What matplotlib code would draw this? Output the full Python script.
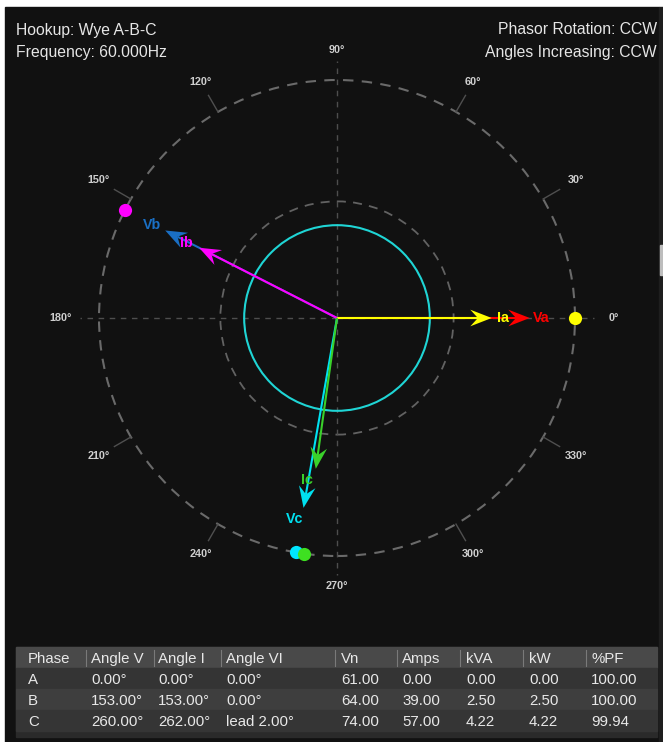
import numpy as np
import matplotlib
matplotlib.use('Agg')
import matplotlib.pyplot as plt
from matplotlib.patches import Circle, Rectangle, Polygon

plt.rcParams['font.family'] = ['Liberation Sans', 'DejaVu Sans']

# phasor data (angles in degrees, lengths as fraction of the outer ring)
phases = ['A', 'B', 'C']
v_angles = [0.0, 153.0, 260.0]
i_angles = [0.0, 153.0, 262.0]
v_len = [0.81, 0.81, 0.81]
i_len = [0.65, 0.65, 0.64]
v_labels = ['Va', 'Vb', 'Vc']
i_labels = ['Ia', 'Ib', 'Ic']
v_colors = ['#ff0000', '#1a6fc4', '#00e1f0']
i_colors = ['#ffff00', '#ff00ff', '#3ad12a']
dot_colors = ['#ffff00', '#ff00ff', '#00e5ff', '#3ee021']
dot_angles = [0.0, 153.0, 260.0, 262.0]

grid_angles = list(range(0, 360, 30))

# table
columns = ['Phase', 'Angle V', 'Angle I', 'Angle VI', 'Vn', 'Amps', 'kVA', 'kW', '%PF']
rows = [
    ['A', '0.00°', '0.00°', '0.00°', '61.00', '0.00', '0.00', '0.00', '100.00'],
    ['B', '153.00°', '153.00°', '0.00°', '64.00', '39.00', '2.50', '2.50', '100.00'],
    ['C', '260.00°', '262.00°', 'lead 2.00°', '74.00', '57.00', '4.22', '4.22', '99.94'],
]
col_x = [28, 91, 158, 226, 341, 402, 466, 529, 591]
sep_x = [86, 154, 221, 335, 397, 460, 523, 586]

W, H = 663, 742
fig = plt.figure(figsize=(W / 100, H / 100), dpi=100, facecolor='white')


def fx(x):
    return x / W


def fy(y):
    return 1 - y / H


# dark panel
fig.patches.append(Rectangle((fx(5), 0), fx(654), fy(7), transform=fig.transFigure,
                             color='#111111', zorder=-10))
fig.patches.append(Rectangle((fx(659), 0), fx(4), fy(7), transform=fig.transFigure,
                             color='#1e1e1e', zorder=-10))
fig.patches.append(Rectangle((fx(660), fy(275)), fx(3), 30 / H, transform=fig.transFigure,
                             color='#bdbdbd', zorder=-9))

# header texts
txt = dict(color='#e6e6e6', fontsize=11.3, va='center')
fig.text(fx(16), fy(30), 'Hookup: Wye A-B-C', ha='left', **txt)
fig.text(fx(16), fy(52), 'Frequency: 60.000Hz', ha='left', **txt)
fig.text(fx(657), fy(30), 'Phasor Rotation: CCW', ha='right', **txt)
fig.text(fx(657), fy(52), 'Angles Increasing: CCW', ha='right', **txt)

# phasor axes: centre at (337, 318) px, outer ring radius 238 px
cx, cy, R = 337, 318, 238
half = 300
ax = fig.add_axes([fx(cx - half), fy(cy + half), 2 * half / W, 2 * half / H])
ax.set_xlim(-half / R, half / R)
ax.set_ylim(-half / R, half / R)
ax.set_aspect('equal')
ax.axis('off')
ax.patch.set_alpha(0)

# rings
ax.add_patch(Circle((0, 0), 1.0, fill=False, ec='#6a6a6a', lw=1.5, ls=(0, (5, 4)), zorder=1))
ax.add_patch(Circle((0, 0), 0.49, fill=False, ec='#626262', lw=1.3, ls=(0, (5, 4)), zorder=1))
ax.add_patch(Circle((0, 0), 0.39, fill=False, ec='#1fd5d5', lw=1.5, zorder=2))

for a in grid_angles:
    t = np.radians(a)
    if a % 90 == 0:
        ax.plot([0, 1.08 * np.cos(t)], [0, 1.08 * np.sin(t)], color='#4e4e4e', lw=1.0,
                ls=(0, (4, 4)), zorder=1)
    else:
        ax.plot([1.0 * np.cos(t), 1.08 * np.cos(t)], [1.0 * np.sin(t), 1.08 * np.sin(t)],
                color='#4f4f4f', lw=1.0, zorder=1)
    r_lab = 1.125 + 0.038 * abs(np.cos(t))
    ax.text(r_lab * np.cos(t), r_lab * np.sin(t), f'{a}°', color='#cfcfcf', fontsize=7.8,
            fontweight='bold', ha='center', va='center')


def phasor(angle, length, color, label, z):
    t = np.radians(angle)
    d = np.array([np.cos(t), np.sin(t)])
    n = np.array([-d[1], d[0]])
    tip = d * length
    hl, hw, notch = 0.09, 0.035, 0.058
    ax.plot([0, tip[0] - d[0] * notch], [0, tip[1] - d[1] * notch], color=color, lw=1.5,
            solid_capstyle='butt', zorder=z)
    head = [tip, tip - d * hl + n * hw, tip - d * notch, tip - d * hl - n * hw]
    ax.add_patch(Polygon(head, closed=True, color=color, lw=0, zorder=z))
    lp = d * (length + 0.047) + np.array([-0.03 * abs(d[1]), 0.0])
    ax.text(lp[0], lp[1], label, color=color, fontsize=10.3, fontweight='bold',
            ha='center', va='center', zorder=z + 1)


for k in range(3):
    phasor(v_angles[k], v_len[k], v_colors[k], v_labels[k], 3 + k)
for k in range(3):
    phasor(i_angles[k], i_len[k], i_colors[k], i_labels[k], 7 + k)

for a, c in zip(dot_angles, dot_colors):
    t = np.radians(a)
    ax.plot(np.cos(t), np.sin(t), 'o', color=c, ms=9.5, mec='none', zorder=12)

# table
tab_left, tab_right = 16, 657
row_top = [647, 668, 689, 710]
row_h = 21
row_colors = ['#494949', '#343434', '#3e3e3e', '#353535']
fig.patches.append(Rectangle((fx(tab_left), fy(737)), fx(tab_right - tab_left), (737 - 647) / H,
                             transform=fig.transFigure, color='#2a2a2a', zorder=1))
for r, (top, col) in enumerate(zip(row_top, row_colors)):
    fig.patches.append(Rectangle((fx(tab_left), fy(top + row_h)), fx(tab_right - tab_left),
                                 row_h / H, transform=fig.transFigure, color=col, zorder=2))
    vals = columns if r == 0 else rows[r - 1]
    for x, v in zip(col_x, vals):
        fig.text(fx(x), fy(top + row_h / 2), v, color='#e8e8e8', fontsize=10.8,
                 ha='left', va='center_baseline', zorder=3)
for x in sep_x:
    fig.lines.append(plt.Line2D([fx(x), fx(x)], [fy(650), fy(666)], transform=fig.transFigure,
                                color='#7a7a7a', lw=0.8, zorder=3))

fig.savefig('out.png', dpi=100, facecolor=fig.get_facecolor())
